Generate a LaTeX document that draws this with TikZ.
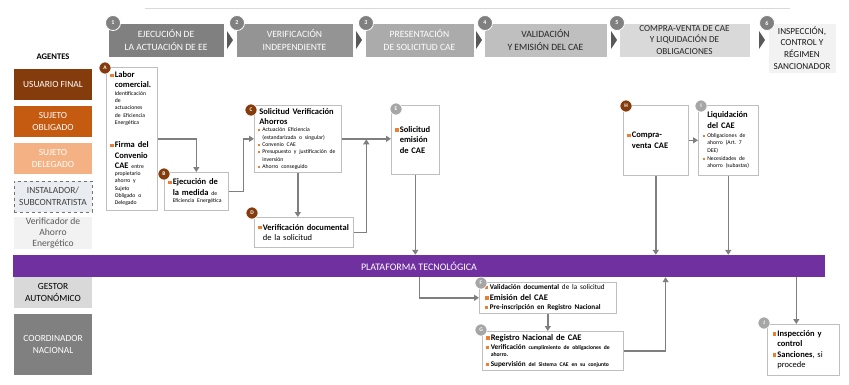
\documentclass[tikz,border=0pt]{standalone}
\usepackage{fontspec}
\setmainfont{Carlito}
\usepackage{xcolor}
\usetikzlibrary{positioning,arrows.meta,calc}
\definecolor{brownA}{HTML}{843C0C}
\definecolor{orangeO}{HTML}{C55A11}
\definecolor{peachD}{HTML}{F4B183}
\definecolor{sqorange}{HTML}{ED7D31}
\definecolor{purpleP}{HTML}{7030A0}
\definecolor{lineg}{HTML}{7F7F7F}
\definecolor{boxg}{HTML}{BFBFBF}
\definecolor{circg}{HTML}{A6A6A6}
\definecolor{instf}{HTML}{E9ECF1}
\hyphenpenalty=10000
\frenchspacing
\newcommand{\fhd}{\fontsize{8.5}{10.3}\selectfont\bfseries}
\newcommand{\fmd}{\fontsize{7.2}{9.3}\selectfont\bfseries}
\newcommand{\fsm}{\fontsize{5.7}{7.3}\selectfont\mdseries}
\newcommand{\fxs}{\fontsize{5.6}{7.3}\selectfont}
\newcommand{\osq}{\makebox[4.5pt][l]{\textcolor{sqorange}{\rule[0.15ex]{0.42em}{0.42em}}}}
\newcommand{\oin}{\hspace*{4.5pt}}

\begin{document}
\begin{tikzpicture}[x=1pt,y=-1pt,
  hdr/.style={draw=white,line width=0.6pt,minimum height=34pt,align=center,inner sep=1pt,
    font=\fontsize{9.6}{12.2}\selectfont},
  agent/.style={minimum width=78pt,minimum height=31pt,align=center,inner sep=0.5pt,
    font=\fontsize{9.4}{11.5}\selectfont},
  box/.style={draw=boxg,fill=white,line width=0.6pt,align=left,inner xsep=4pt,inner ysep=0pt,
    anchor=north west,font=\fhd,execute at begin node={\rightskip=0pt plus 1fil\relax}},
  num/.style={circle,fill=black!50,draw=white,line width=0.8pt,text=white,inner sep=0pt,
    minimum size=15pt,font=\fontsize{6}{6}\selectfont\bfseries},
  tag/.style={circle,draw=white,line width=0.6pt,text=white,inner sep=0pt,minimum size=12pt,
    font=\fontsize{5.5}{5.5}\selectfont\bfseries},
  arrow/.style={-{Triangle[length=5pt,width=6pt]},draw=lineg,line width=1.5pt},
  chev/.style={fill=black!65}
]
  \path[use as bounding box,fill=white] (0,0) rectangle (849,384);
  \draw[black!15,line width=0.8pt] (145,8) -- (790,8);

  \node[hdr,fill=black!50,text=white,minimum width=116pt] (h1) at (166,40) {EJECUCIÓN DE\\LA ACTUACIÓN DE EE};
  \node[hdr,fill=black!42,text=white,minimum width=117pt] (h2) at (294.5,40) {VERIFICACIÓN\\INDEPENDIENTE};
  \node[hdr,fill=black!33,text=white,minimum width=109pt] (h3) at (419.5,40) {PRESENTACIÓN\\DE SOLICITUD CAE};
  \node[hdr,fill=black!25,text=black!85,minimum width=123pt] (h4) at (545.5,40) {VALIDACIÓN\\Y EMISIÓN DEL CAE};
  \node[hdr,fill=black!15,text=black!85,minimum width=131pt,
        font=\fontsize{9.2}{11.3}\selectfont] (h5) at (684.5,40) {COMPRA-VENTA DE CAE\\Y LIQUIDACIÓN DE\\OBLIGACIONES};
  \node[hdr,fill=black!5,text=black!90,minimum width=68pt,minimum height=50pt,
        font=\fontsize{9.2}{11.7}\selectfont] (h6) at (802,48) {INSPECCIÓN,\\CONTROL Y\\RÉGIMEN\\SANCIONADOR};
  \foreach \x in {227,356,476,611,759}
    \fill[chev] (\x,31) -- (\x+6,40) -- (\x,49) -- cycle;
  \foreach \n/\x in {1/113,2/237,3/366,4/485,5/617,6/767}
    \node[num] (n\n) at (\x,23) {\n};

  \node[font=\fontsize{8.6}{10}\selectfont\bfseries] (ag) at (53,57) {AGENTES};
  \node[agent,fill=brownA,text=white] (uf) at (53,84) {USUARIO FINAL};
  \node[agent,fill=orangeO,text=white] (so) at (53,121.5) {SUJETO\\OBLIGADO};
  \node[agent,fill=peachD,text=white] (sd) at (53,158.5) {SUJETO\\DELEGADO};
  \node[agent,fill=instf,draw=black!55,dashed,line width=0.8pt,text=black!75] (is) at (53,196.5) {INSTALADOR/\\SUBCONTRATISTA};
  \node[agent,fill=black!5,text=black!65,font=\fontsize{9.6}{11.3}\selectfont] (va) at (53,233) {Verificador de\\Ahorro\\Energético};
  \node[fill=purpleP,text=white,minimum width=812pt,minimum height=22pt,
        font=\fontsize{10}{12}\selectfont] (P) at (419,266) {PLATAFORMA TECNOLÓGICA};
  \node[agent,fill=black!15,text=black] (ga) at (53,292.5) {GESTOR\\AUTONÓMICO};
  \node[agent,fill=black!50,text=white,minimum height=61pt] (cn) at (53,344.5) {COORDINADOR\\NACIONAL};

  \node[box,text width=43pt,minimum height=143pt] (A) at (106,67)
    {\osq Labor\\
     \oin comercial.\\
     \fsm\oin Identificación\\
     \oin de\\
     \oin actuaciones\\
     \oin de Eficiencia\\
     \oin Energética\\[13pt]
     \fhd\osq Firma del\\
     \oin Convenio\\
     \oin CAE {\fsm entre}\\
     \fsm\oin propietario\\
     \oin ahorro y\\
     \oin Sujeto\\
     \oin Obligado o\\
     \oin Delegado\par};
  \node[box,text width=56pt,minimum height=38pt] (B) at (164,172)
    {\osq Ejecución de\\
     \oin la medida {\fsm de}\\
     \fsm\oin Eficiencia Energética\par};
  \node[box,text width=80pt,inner xsep=3.5pt,minimum height=67pt] (C) at (254,105)
    {\hspace*{1.5pt}Solicitud Verificación\\
     \hspace*{1.5pt}Ahorros\\
     \fsm\osq Actuación Eficiencia\\
     \oin (estandarizada o singular)\\
     \osq Convenio CAE\\
     \osq Presupuesto y justificación de\\
     \oin inversión\\
     \osq Ahorro conseguido\par};
  \node[box,text width=91pt,minimum height=30pt] (D) at (254,217)
    {\osq Verificación documental\\
     \oin\mdseries de la solicitud\par};
  \node[box,text width=40pt,minimum height=69pt] (E) at (391,105)
    {\osq Solicitud\\ \oin emisión\\ \oin de CAE\par};
  \node[box,text width=125pt,inner xsep=6pt,minimum height=31pt] (F) at (479,282)
    {\fmd\osq Validación documental {\mdseries de la solicitud}\\
     \fhd\osq Emisión del CAE\\
     \fmd\osq Pre-inscripción en Registro Nacional\par};
  \node[box,text width=133pt,inner xsep=4pt,minimum height=39pt] (G) at (482,331)
    {\fhd\osq Registro Nacional de CAE\\
     \fmd\osq Verificación {\fxs cumplimiento de obligaciones de}\\
     \fsm\bfseries\oin ahorro.\\
     \fmd\osq Supervisión {\fxs del Sistema CAE en su conjunto}\par};
  \node[box,text width=57pt,minimum height=70pt] (H) at (623,105)
    {\osq Compra-\\ \oin venta CAE\par};
  \node[box,text width=51pt,inner xsep=4.5pt,minimum height=70pt] (I) at (698,105)
    {\oin Liquidación\\
     \oin del CAE\\[2pt]
     \fsm\osq Obligaciones de\\
     \oin ahorro (Art. 7\\
     \oin DEE)\\[1pt]
     \osq Necesidades de\\
     \oin ahorro (subastas)\par};
  \node[box,text width=61pt,inner xsep=5.5pt,minimum height=51pt] (J) at (767,324)
    {\osq Inspección y\\ \oin control\\ \osq Sanciones{\mdseries, si}\\ \oin\mdseries procede\par};

  \foreach \l/\x/\y/\c in {A/105/68/brownA,B/164/174/brownA,C/251/110/brownA,D/252/213/brownA,
      E/396/109/circg,F/481/283/circg,G/481/330/circg,H/626/106/brownA,I/701/106/circg,J/764/323/circg}
    \node[tag,fill=\c] (t\l) at (\x,\y) {\l};

  \draw[arrow] (A.east) -| (B.north);
  \draw[arrow] (B.east) -- ++(15,0) |- (C.west);
  \draw[arrow] (C.south) -- (C.south |- D.north);
  \draw[arrow] (C.east) -- (C.east -| E.west);
  \draw[arrow] (D.east) -| ($(C.east)!.5!(E.west)$);
  \draw[arrow] (E.south) -- (E.south |- P.north);
  \draw[arrow] ([xshift=4pt]E.south |- P.south) |- (F.west);
  \draw[arrow] (F.south) -- (F.south |- G.north);
  \draw[arrow] (G.east) -| ([xshift=42pt]G.east |- P.south);
  \draw[arrow] (H.east) -- (H.east -| I.west);
  \draw[arrow] (H.south) -- (H.south |- P.north);
  \draw[arrow] (I.south) -- (I.south |- P.north);
  \draw[arrow] ([xshift=-7pt]J.north |- P.south) -- ([xshift=-7pt]J.north);
\end{tikzpicture}
\end{document}
